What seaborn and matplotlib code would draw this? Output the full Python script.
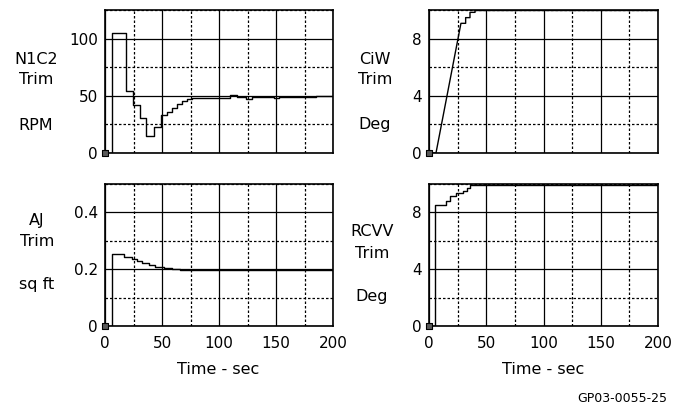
import matplotlib
matplotlib.use("Agg")
import matplotlib.pyplot as plt
from matplotlib.ticker import MultipleLocator
import seaborn as sns

# N1C2 trim (RPM), step levels starting at each time
n1c2_t = [0, 6.3, 18.8, 24.3, 31, 36.3, 42.7, 49.2, 54.4, 58.8, 63.2, 67.6, 72, 76.3,
          110, 116, 124, 129, 148, 153, 185, 200]
n1c2_v = [0, 105, 54.7, 41.8, 31, 14.9, 23, 33.3, 36.2, 39.2, 42.7, 45.6, 47.6, 48.5,
          50.6, 49, 47.8, 49, 48.2, 49, 49.6, 50.4]

# CiW trim (deg), ramp then small steps
ciw_t = [0, 6.1, 27.9, 32, 32, 35.8, 35.8, 40.2, 40.2, 200]
ciw_v = [0, 0, 9.1, 9.1, 9.5, 9.5, 9.87, 9.87, 10, 10]

# AJ trim (sq ft), step levels
aj_t = [0, 6.3, 16.5, 23.8, 28.2, 32.6, 38.4, 44.2, 51.5, 58.8, 66.1, 200]
aj_v = [0, 0.253, 0.243, 0.2375, 0.229, 0.222, 0.214, 0.208, 0.2045, 0.200, 0.197, 0.197]

# RCVV trim (deg), step levels
rcvv_t = [0, 5.2, 14.6, 18.3, 23.3, 30, 32.9, 35.8, 200]
rcvv_v = [0, 8.49, 8.77, 9.12, 9.35, 9.54, 9.73, 9.92, 9.92]

x_ticks = [0, 50, 100, 150, 200]
x_labels = ["0", "50", "100", "150", "200"]

sns.set_style("white")
plt.rcParams['font.family'] = ['DejaVu Sans']
plt.rcParams['text.color'] = 'black'
plt.rcParams['xtick.color'] = 'black'
plt.rcParams['ytick.color'] = 'black'

W, H = 680, 403
fig = plt.figure(figsize=(6.8, 4.03), dpi=100)


def box(x0, x1, ytop, ybot):
    return [x0 / W, 1 - ybot / H, (x1 - x0) / W, (ybot - ytop) / H]


def setup(ax, ymax, yticks, ylabels, show_x):
    ax.set_xlim(0, 200)
    ax.set_ylim(0, ymax)
    ax.set_xticks(x_ticks)
    ax.xaxis.set_minor_locator(MultipleLocator(25))
    ax.set_yticks(yticks)
    ax.yaxis.set_minor_locator(MultipleLocator(yticks[1] / 2))
    ax.set_yticklabels(ylabels, fontsize=11, color='black')
    if show_x:
        ax.set_xticklabels(x_labels, fontsize=11, color='black')
    else:
        ax.set_xticklabels([])
    ax.tick_params(which='both', length=0)
    ax.tick_params(axis='y', pad=5)
    ax.tick_params(axis='x', pad=7)
    ax.grid(which='major', color='black', lw=0.9, ls='-')
    ax.grid(which='minor', color='black', lw=0.9, ls=(0, (2.0, 1.6)))
    ax.set_axisbelow(True)
    for s in ax.spines.values():
        s.set_visible(True)
        s.set_color('black')
        s.set_linewidth(1.2)
    ax.set_xlabel('')
    ax.set_ylabel('')
    sns.scatterplot(x=[0], y=[0], ax=ax, marker='s', s=14, color='0.35',
                    edgecolor='black', linewidth=0.8, clip_on=False, zorder=5)


ax1 = fig.add_axes(box(105, 333, 10.5, 153))
sns.lineplot(x=n1c2_t, y=n1c2_v, ax=ax1, estimator=None, sort=False,
             drawstyle='steps-post', color='black', lw=1.0)
setup(ax1, 125, [0, 50, 100], ["0", "50", "100"], False)

ax2 = fig.add_axes(box(429, 658, 10.5, 153))
sns.lineplot(x=ciw_t, y=ciw_v, ax=ax2, estimator=None, sort=False,
             color='black', lw=1.0)
setup(ax2, 10, [0, 4, 8], ["0", "4", "8"], False)

ax3 = fig.add_axes(box(105, 333, 184, 326))
sns.lineplot(x=aj_t, y=aj_v, ax=ax3, estimator=None, sort=False,
             drawstyle='steps-post', color='black', lw=1.0)
setup(ax3, 0.5, [0, 0.2, 0.4], ["0", "0.2", "0.4"], True)

ax4 = fig.add_axes(box(429, 658, 184, 326))
sns.lineplot(x=rcvv_t, y=rcvv_v, ax=ax4, estimator=None, sort=False,
             drawstyle='steps-post', color='black', lw=1.0)
setup(ax4, 10, [0, 4, 8], ["0", "4", "8"], True)


def label(x, y, s, size=11.5):
    fig.text(x / W, 1 - y / H, s, ha='center', va='center', fontsize=size,
             color='black')


label(36, 60, "N1C2")
label(36, 80, "Trim")
label(36, 125, "RPM")
label(375, 60, "CiW")
label(375, 80, "Trim")
label(375, 124, "Deg")
label(37, 220, "AJ")
label(37, 242, "Trim")
label(37, 285, "sq ft")
label(372, 232, "RCVV")
label(372, 254, "Trim")
label(372, 297, "Deg")
label(218, 370, "Time - sec")
label(543, 370, "Time - sec")
label(622, 398, "GP03-0055-25", size=9)

fig.savefig("out.png", dpi=100)
